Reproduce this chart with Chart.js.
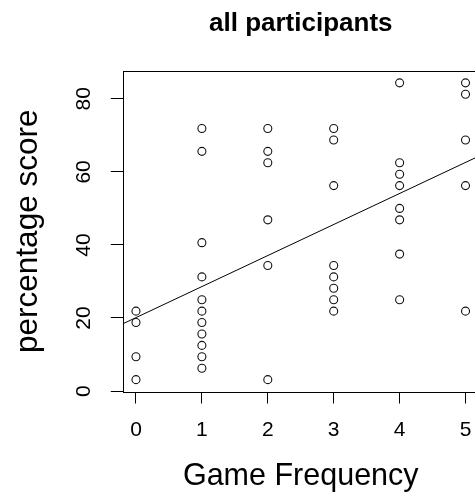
<!DOCTYPE html>
<html>
<head>
<meta charset="utf-8">
<title>all participants</title>
<script src="https://cdn.jsdelivr.net/npm/chart.js@4/dist/chart.umd.min.js"></script>
<style>
  html, body { margin: 0; padding: 0; overflow: hidden; background: #fff; }
  #wrap { width: 490px; height: 492px; }
</style>
</head>
<body>
<div id="wrap"><canvas id="scoreChart" width="490" height="492"></canvas></div>
<script>
// data (scores look like multiples of 1/32)
const gameFrequency = [
    0, 0, 0, 0,
    1, 1, 1, 1, 1, 1, 1, 1, 1, 1, 1,
    2, 2, 2, 2, 2, 2,
    3, 3, 3, 3, 3, 3, 3, 3,
    4, 4, 4, 4, 4, 4, 4, 4,
    5, 5, 5, 5, 5
];
const percentageScore = [
    21.875, 18.75, 9.375, 3.125,
    71.875, 65.625, 40.625, 31.25, 25, 21.875, 18.75, 15.625, 12.5, 9.375, 6.25,
    71.875, 65.625, 62.5, 46.875, 34.375, 3.125,
    71.875, 68.75, 56.25, 34.375, 31.25, 28.125, 25, 21.875,
    84.375, 62.5, 59.375, 56.25, 50, 46.875, 37.5, 25,
    84.375, 81.25, 68.75, 56.25, 21.875
];
const xTicks = [0, 1, 2, 3, 4, 5];
const yTicks = [0, 20, 40, 60, 80];
const xRange = [-0.2, 5.2];
const yRange = [-0.125, 87.625];

document.addEventListener("DOMContentLoaded", function () {
    const fontFamily = "'Liberation Sans', Arial, sans-serif";
    Chart.defaults.color = "#000";
    Chart.defaults.font.family = fontFamily;

    // least squares fit, like abline(lm(score ~ freq))
    let n = gameFrequency.length;
    let mx = gameFrequency.reduce((a, b) => a + b, 0) / n;
    let my = percentageScore.reduce((a, b) => a + b, 0) / n;
    let sxy = 0, sxx = 0;
    for (let i = 0; i < n; i++) {
        sxy += (gameFrequency[i] - mx) * (percentageScore[i] - my);
        sxx += (gameFrequency[i] - mx) * (gameFrequency[i] - mx);
    }
    let slope = sxy / sxx;
    let intercept = my - slope * mx;
    let fitLine = xRange.map(x => ({ x: x, y: intercept + slope * x }));

    let points = gameFrequency.map((f, i) => ({ x: f, y: percentageScore[i] }));

    // box round the plot area
    const boxPlugin = {
        id: "plotBox",
        afterDraw(chart) {
            let a = chart.chartArea;
            let ctx = chart.ctx;
            ctx.save();
            ctx.strokeStyle = "#000";
            ctx.lineWidth = 1;
            ctx.strokeRect(Math.round(a.left) + 0.5, Math.round(a.top) + 0.5,
                Math.round(a.right - a.left), Math.round(a.bottom - a.top));
            ctx.restore();
        }
    };

    new Chart(document.getElementById("scoreChart"), {
        type: "scatter",
        data: {
            datasets: [{
                data: points,
                pointStyle: "circle",
                pointRadius: 4,
                pointHoverRadius: 4,
                pointBorderWidth: 1.1,
                borderColor: "#111",
                backgroundColor: "rgba(0,0,0,0)"
            }, {
                type: "line",
                data: fitLine,
                borderColor: "#000",
                borderWidth: 1,
                pointRadius: 0,
                fill: false
            }]
        },
        options: {
            responsive: false,
            animation: false,
            layout: { padding: { left: 0, right: 11.3, top: 0, bottom: 0 } },
            plugins: {
                legend: { display: false },
                tooltip: { enabled: false },
                title: {
                    display: true,
                    text: "all participants",
                    fullSize: false,
                    color: "#000",
                    font: { size: 26, weight: "bold", lineHeight: 1 },
                    padding: { top: 11.2, bottom: 33.8 }
                }
            },
            scales: {
                x: {
                    type: "linear",
                    min: xRange[0],
                    max: xRange[1],
                    afterBuildTicks: s => { s.ticks = xTicks.map(v => ({ value: v })); },
                    afterFit: s => { s.height = 100.5; },
                    grid: { drawOnChartArea: false, drawTicks: true, tickLength: 12, color: "#000", lineWidth: 1 },
                    border: { display: false },
                    ticks: { padding: 14, font: { size: 21 }, color: "#000", maxRotation: 0 },
                    title: {
                        display: true,
                        text: "Game Frequency",
                        color: "#000",
                        font: { size: 30.5, lineHeight: 1 },
                        padding: { top: 0, bottom: 0 }
                    }
                },
                y: {
                    type: "linear",
                    min: yRange[0],
                    max: yRange[1],
                    afterBuildTicks: s => { s.ticks = yTicks.map(v => ({ value: v })); },
                    afterFit: s => { s.width = 122.8; },
                    grid: { drawOnChartArea: false, drawTicks: true, tickLength: 12, color: "#000", lineWidth: 1 },
                    border: { display: false },
                    ticks: { padding: 14.6, font: { size: 21 }, color: "#000", minRotation: 90, maxRotation: 90, crossAlign: "center" },
                    title: {
                        display: true,
                        text: "percentage score",
                        color: "#000",
                        font: { size: 31.5, lineHeight: 1 },
                        padding: { top: 13, bottom: 0 }
                    }
                }
            }
        },
        plugins: [boxPlugin]
    });
});
</script>
</body>
</html>
